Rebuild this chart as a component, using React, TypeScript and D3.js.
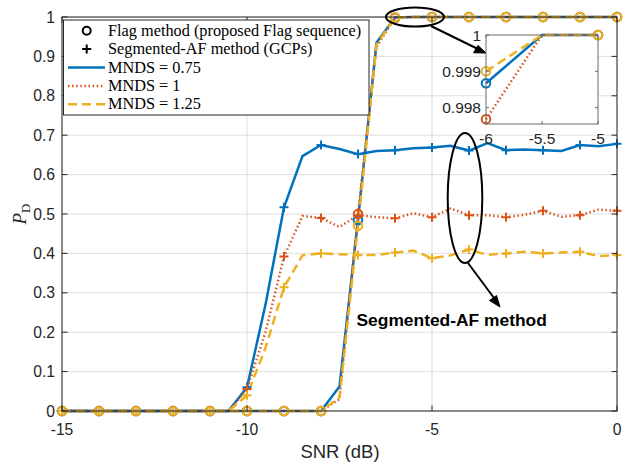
import React from "react";
import * as d3 from "d3";

const snr = [-15, -14.5, -14, -13.5, -13, -12.5, -12, -11.5, -11, -10.5, -10, -9.5, -9, -8.5, -8, -7.5, -7, -6.5, -6, -5.5, -5, -4.5, -4, -3.5, -3, -2.5, -2, -1.5, -1, -0.5, 0];

const flagBlue = [0, 0, 0, 0, 0, 0, 0, 0, 0, 0, 0, 0, 0, 0, 0, 0.062, 0.485, 0.935, 0.99867, 1, 1, 1, 1, 1, 1, 1, 1, 1, 1, 1, 1];
const flagRed = [0, 0, 0, 0, 0, 0, 0, 0, 0, 0, 0, 0, 0, 0, 0, 0.03, 0.5, 0.925, 0.99768, 1, 1, 1, 1, 1, 1, 1, 1, 1, 1, 1, 1];
const flagYellow = [0, 0, 0, 0, 0, 0, 0, 0, 0, 0, 0, 0, 0, 0, 0, 0.035, 0.47, 0.93, 0.999, 1, 1, 1, 1, 1, 1, 1, 1, 1, 1, 1, 1];

const segBlue = [0, 0, 0, 0, 0, 0, 0, 0, 0, 0, 0.06, 0.27, 0.517, 0.647, 0.675, 0.665, 0.652, 0.66, 0.662, 0.667, 0.669, 0.673, 0.661, 0.68, 0.662, 0.664, 0.662, 0.66, 0.675, 0.672, 0.678];
const segRed = [0, 0, 0, 0, 0, 0, 0, 0, 0, 0, 0.056, 0.2, 0.392, 0.495, 0.49, 0.467, 0.497, 0.492, 0.489, 0.502, 0.492, 0.514, 0.497, 0.497, 0.492, 0.498, 0.508, 0.493, 0.497, 0.511, 0.508];
const segYellow = [0, 0, 0, 0, 0, 0, 0, 0, 0, 0, 0.04, 0.16, 0.314, 0.395, 0.4, 0.398, 0.396, 0.396, 0.402, 0.407, 0.388, 0.395, 0.41, 0.396, 0.4, 0.404, 0.4, 0.402, 0.404, 0.393, 0.396];

const xTicks = [-15, -10, -5, 0];
const yTicks = [0, 0.1, 0.2, 0.3, 0.4, 0.5, 0.6, 0.7, 0.8, 0.9, 1];
const insetXTicks = [-6, -5.5, -5];
const insetYTicks = [0.998, 0.999, 1];
const legendLabels = ["Flag method (proposed Flag sequence)", "Segmented-AF method (GCPs)", "MNDS = 0.75", "MNDS = 1", "MNDS = 1.25"];

const BLUE = "#0072BD";
const RED = "#D95319";
const YELLOW = "#EDB120";
const AX = "#262626";

const styles = [
  { color: BLUE, dash: undefined as string | undefined },
  { color: RED, dash: "1.5,2.6" },
  { color: YELLOW, dash: "9,5" },
];

const W = 623, H = 462;
const L = 62, R = 617, T = 17, B = 411;

export default function App() {
  const x = d3.scaleLinear().domain([-15, 0]).range([L, R]);
  const y = d3.scaleLinear().domain([0, 1]).range([B, T]);

  const ix = d3.scaleLinear().domain([-6, -5]).range([486, 598]);
  const iy = d3.scaleLinear().domain([0.99755, 1]).range([124, 35]);

  const mainLine = d3.line<[number, number]>().x((d) => x(d[0])).y((d) => y(d[1]));
  const insetLine = d3.line<[number, number]>().x((d) => ix(d[0])).y((d) => iy(d[1]));

  const flags = [flagBlue, flagRed, flagYellow];
  const segs = [segBlue, segRed, segYellow];
  const pts = (vals: number[]) => snr.map((s, i) => [s, vals[i]] as [number, number]);
  const markerPts = (vals: number[]) => snr.map((s, i) => [s, vals[i]] as [number, number]).filter((_, i) => i % 2 === 0);

  const circle = (cx: number, cy: number, color: string, key: string) => (
    <circle key={key} cx={cx} cy={cy} r={4.3} fill="none" stroke={color} strokeWidth={2} />
  );
  const plus = (cx: number, cy: number, color: string, key: string) => (
    <path key={key} d={`M${cx - 4.5},${cy}H${cx + 4.5}M${cx},${cy - 4.5}V${cy + 4.5}`} stroke={color} strokeWidth={2} />
  );

  const insetPts = (vals: number[]) => pts(vals).filter((d) => d[0] >= -6 && d[0] <= -5);

  return (
    <svg width={W} height={H} style={{ position: "absolute", left: 0, top: 0, background: "#fff" }} fontFamily="'Liberation Sans', Arial, sans-serif">
      <rect x={0} y={0} width={W} height={H} fill="#fff" />
      {/* grid */}
      {xTicks.map((t) => (
        <line key={"gx" + t} x1={x(t)} x2={x(t)} y1={T} y2={B} stroke="#dfdfdf" strokeWidth={1} />
      ))}
      {yTicks.map((t) => (
        <line key={"gy" + t} x1={L} x2={R} y1={y(t)} y2={y(t)} stroke="#dfdfdf" strokeWidth={1} />
      ))}
      {/* curves */}
      <g clipPath="url(#clipMain)">
        {flags.map((vals, k) => (
          <path key={"fl" + k} d={mainLine(pts(vals)) || ""} fill="none" stroke={styles[k].color} strokeWidth={2.5} strokeDasharray={styles[k].dash} />
        ))}
        {segs.map((vals, k) => (
          <path key={"sl" + k} d={mainLine(pts(vals)) || ""} fill="none" stroke={styles[k].color} strokeWidth={2.5} strokeDasharray={styles[k].dash} />
        ))}
        {flags.map((vals, k) => markerPts(vals).map((d, i) => circle(x(d[0]), y(d[1]), styles[k].color, `fc${k}-${i}`)))}
        {segs.map((vals, k) => markerPts(vals).map((d, i) => plus(x(d[0]), y(d[1]), styles[k].color, `sp${k}-${i}`)))}
      </g>
      <defs>
        <clipPath id="clipMain">
          <rect x={L - 6} y={T - 6} width={R - L + 12} height={B - T + 12} />
        </clipPath>
        <clipPath id="clipInset">
          <rect x={ix(-6) - 6} y={iy(1) - 6} width={ix(-5) - ix(-6) + 12} height={iy(0.99755) - iy(1) + 12} />
        </clipPath>
      </defs>
      {/* axes box */}
      <rect x={L} y={T} width={R - L} height={B - T} fill="none" stroke={AX} strokeWidth={1} />
      {xTicks.map((t) => (
        <g key={"tx" + t}>
          <line x1={x(t)} x2={x(t)} y1={B} y2={B - 5.5} stroke={AX} />
          <line x1={x(t)} x2={x(t)} y1={T} y2={T + 5.5} stroke={AX} />
          <text x={x(t)} y={B + 23.5} textAnchor="middle" fontSize={15.7} fill={AX}>{t}</text>
        </g>
      ))}
      {yTicks.map((t) => (
        <g key={"ty" + t}>
          <line x1={L} x2={L + 5.5} y1={y(t)} y2={y(t)} stroke={AX} />
          <line x1={R} x2={R - 5.5} y1={y(t)} y2={y(t)} stroke={AX} />
          <text x={L - 7} y={y(t) + 5.5} textAnchor="end" fontSize={15.7} fill={AX}>{t}</text>
        </g>
      ))}
      <text x={340} y={458} textAnchor="middle" fontSize={18.5} fill={AX}>SNR (dB)</text>
      <text transform={`translate(26,${y(0.5)}) rotate(-90)`} textAnchor="middle" fontSize={19} fill={AX} fontFamily="'Liberation Serif', serif">
        <tspan fontStyle="italic">P</tspan>
        <tspan fontSize={13} dy={4}>D</tspan>
      </text>

      {/* legend */}
      <rect x={63.5} y={20} width={305.5} height={95} fill="#fff" stroke={AX} strokeWidth={1} />
      {legendLabels.map((lab, i) => {
        const cy = 30.7 + i * 18.4;
        return (
          <g key={"lg" + i}>
            {i === 0 && <circle cx={86.7} cy={cy} r={4} fill="none" stroke="#000" strokeWidth={2} />}
            {i === 1 && <path d={`M82.2,${cy}H91.2M86.7,${cy - 4.5}V${cy + 4.5}`} stroke="#000" strokeWidth={2} />}
            {i >= 2 && (
              <line x1={68} x2={105} y1={cy} y2={cy} stroke={styles[i - 2].color} strokeWidth={2.5} strokeDasharray={styles[i - 2].dash} />
            )}
            <text x={108} y={cy + 5} fontSize={16.3} fill="#000" fontFamily="'Liberation Serif', serif">{lab}</text>
          </g>
        );
      })}

      {/* annotations */}
      <ellipse cx={415} cy={17} rx={29} ry={9.5} fill="none" stroke="#000" strokeWidth={2} />
      <line x1={431} x2={481} y1={26} y2={50.5} stroke="#000" strokeWidth={2} />
      <path d="M486,53 L473.5,52.8 L478,45.5 Z" fill="#000" stroke="#000" strokeWidth={1} />
      <ellipse cx={465} cy={198} rx={17.3} ry={65} fill="none" stroke="#000" strokeWidth={2} />
      <line x1={468} x2={497} y1={263} y2={302} stroke="#000" strokeWidth={2} />
      <path d="M500,307 L489.5,300.5 L496.5,295.5 Z" fill="#000" stroke="#000" strokeWidth={1} />
      <text x={356.5} y={326} fontSize={17.4} fontWeight="bold" fill="#000">Segmented-AF method</text>

      {/* inset */}
      <rect x={ix(-6)} y={iy(1)} width={ix(-5) - ix(-6)} height={iy(0.99755) - iy(1)} fill="#fff" />
      <g clipPath="url(#clipInset)">
        {flags.map((vals, k) => (
          <path key={"il" + k} d={insetLine(insetPts(vals)) || ""} fill="none" stroke={styles[k].color} strokeWidth={2.5} strokeDasharray={styles[k].dash} />
        ))}
        {flags.map((vals, k) =>
          insetPts(vals)
            .filter((d) => Number.isInteger(d[0]))
            .map((d, i) => circle(ix(d[0]), iy(d[1]), styles[k].color, `ic${k}-${i}`))
        )}
      </g>
      <rect x={ix(-6)} y={iy(1)} width={ix(-5) - ix(-6)} height={iy(0.99755) - iy(1)} fill="none" stroke="#6b6b6b" strokeWidth={1} />
      {insetXTicks.map((t) => (
        <g key={"itx" + t}>
          <line x1={ix(t)} x2={ix(t)} y1={iy(0.99755)} y2={iy(0.99755) - 3} stroke="#6b6b6b" />
          <line x1={ix(t)} x2={ix(t)} y1={iy(1)} y2={iy(1) + 3} stroke="#6b6b6b" />
          <text x={ix(t)} y={144} textAnchor="middle" fontSize={15.5} fill={AX}>{t}</text>
        </g>
      ))}
      {insetYTicks.map((t) => (
        <g key={"ity" + t}>
          <line x1={ix(-6)} x2={ix(-6) + 3} y1={iy(t)} y2={iy(t)} stroke="#6b6b6b" />
          <line x1={ix(-5)} x2={ix(-5) - 3} y1={iy(t)} y2={iy(t)} stroke="#6b6b6b" />
          <text x={481} y={iy(t) + 5.5} textAnchor="end" fontSize={15.5} fill={AX}>{t}</text>
        </g>
      ))}
    </svg>
  );
}
